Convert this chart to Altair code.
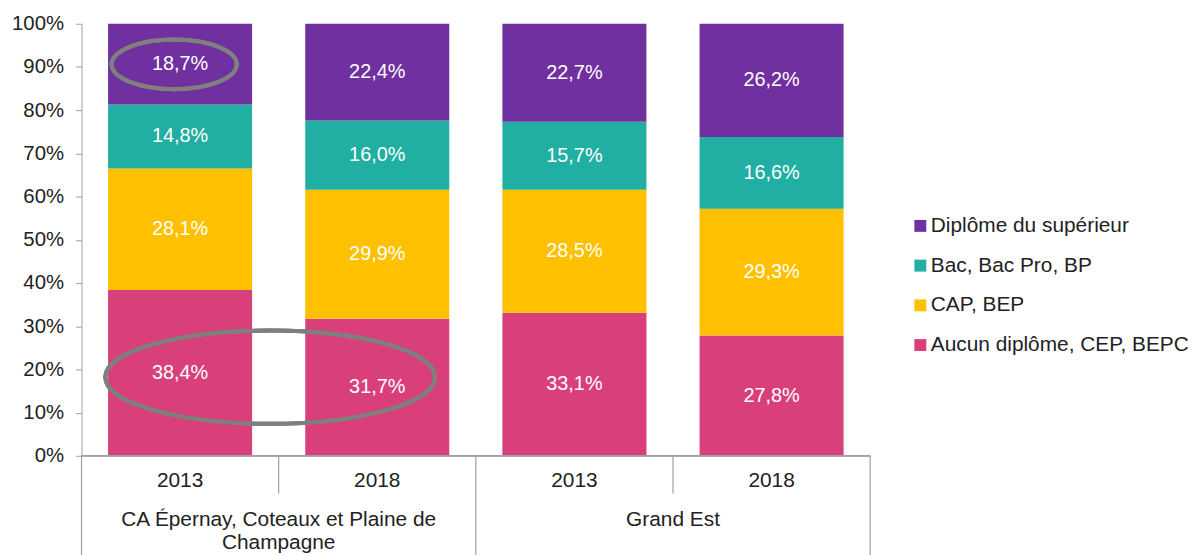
import altair as alt
import pandas as pd

# ---- data ----
levels = ["Aucun diplôme, CEP, BEPC", "CAP, BEP", "Bac, Bac Pro, BP", "Diplôme du supérieur"]
legend_order = ["Diplôme du supérieur", "Bac, Bac Pro, BP", "CAP, BEP", "Aucun diplôme, CEP, BEPC"]
colors = ["#7030A0", "#20AFA2", "#FFC000", "#D83F7B"]
years = ["2013", "2018", "2013", "2018"]
regions = ["CA Épernay, Coteaux et Plaine de\nChampagne", "Grand Est"]
aucun = [38.4, 31.7, 33.1, 27.8]
cap = [28.1, 29.9, 28.5, 29.3]
bac = [14.8, 16.0, 15.7, 16.6]
sup = [18.7, 22.4, 22.7, 26.2]

series = [aucun, cap, bac, sup]
rows = []
for li, (lev, vals) in enumerate(zip(levels, series)):
    for i, v in enumerate(vals):
        rows.append({"slot": i + 0.5, "year": years[i], "level": lev, "order": li, "value": v})
df = pd.DataFrame(rows)

year_df = pd.DataFrame({"slot": [i + 0.5 for i in range(4)], "year": years})
region_df = pd.DataFrame({"slot": [1, 3], "region": regions})
long_df = pd.DataFrame({"pos": [0, 2, 4]})
short_df = pd.DataFrame({"pos": [1, 3]})

FONT = "Liberation Sans"
GRAY = "#a0a0a0"
TXT = "#222222"
xscale = alt.Scale(domain=[0, 4], nice=False, zero=False, padding=0)
yscale = alt.Scale(domain=[0, 1], nice=False, padding=0)

base = alt.Chart(df).transform_stack(
    stack="value", groupby=["slot"], as_=["v0", "v1"], offset="normalize",
    sort=[alt.SortField("order")]
).transform_calculate(
    mid="(datum.v0 + datum.v1) / 2",
    label="replace(format(datum.value, '.1f'), '.', ',') + '%'"
)

bars = base.mark_bar(size=145).encode(
    x=alt.X("slot:Q", scale=xscale, axis=None),
    y=alt.Y("v0:Q", scale=yscale, title=None,
            axis=alt.Axis(values=[i / 10 for i in range(11)], format=".0%", grid=False,
                          domainColor=GRAY, tickColor=GRAY, tickSize=6, labelPadding=12,
                          labelFontSize=20.5, labelColor=TXT, labelFont=FONT)),
    y2="v1:Q",
    color=alt.Color("level:N", scale=alt.Scale(domain=legend_order, range=colors),
                    legend=alt.Legend(title=None, orient="none", legendX=834, legendY=193,
                                      symbolType="square", symbolSize=144, symbolStrokeWidth=0,
                                      labelFontSize=21, labelFont=FONT, labelColor=TXT,
                                      labelLimit=0, labelOffset=0, rowPadding=18, padding=0)),
)

texts = base.mark_text(fontSize=20, font=FONT, color="white", baseline="middle").encode(
    x=alt.X("slot:Q", scale=xscale),
    y=alt.Y("mid:Q", scale=yscale),
    text="label:N",
)

year_text = alt.Chart(year_df).mark_text(fontSize=21, font=FONT, color=TXT, baseline="middle").encode(
    x=alt.X("slot:Q", scale=xscale), y=alt.value(460), text="year:N"
)
region_text = alt.Chart(region_df).mark_text(fontSize=21, font=FONT, color=TXT, baseline="middle",
                                             lineBreak="\n", lineHeight=23).encode(
    x=alt.X("slot:Q", scale=xscale), y=alt.value(500), text="region:N"
)

long_rules = alt.Chart(long_df).mark_rule(color=GRAY, strokeWidth=1.2).encode(
    x=alt.X("pos:Q", scale=xscale), y=alt.value(435), y2=alt.value(540)
)
short_rules = alt.Chart(short_df).mark_rule(color=GRAY, strokeWidth=1.2).encode(
    x=alt.X("pos:Q", scale=xscale), y=alt.value(435), y2=alt.value(473)
)
base_rule = alt.Chart(long_df).mark_rule(color=GRAY, strokeWidth=1.2).encode(
    x=alt.datum(0, scale=xscale), x2=alt.datum(4), y=alt.value(435)
)

ell1 = alt.Chart(long_df).mark_point(
    shape="M -1 0 A 1 0.397 0 1 0 1 0 A 1 0.397 0 1 0 -1 0",
    size=15876, filled=False, stroke="#7f7f7f", strokeWidth=4, opacity=1
).encode(x=alt.datum(0.47, scale=xscale), y=alt.datum(0.906, scale=yscale))

ell2 = alt.Chart(long_df).mark_point(
    shape="M -1 0 A 1 0.283 0 1 0 1 0 A 1 0.283 0 1 0 -1 0",
    size=110224, filled=False, stroke="#7f7f7f", strokeWidth=4, opacity=1
).encode(x=alt.datum(0.957, scale=xscale), y=alt.datum(0.182, scale=yscale))

chart = alt.layer(
    bars, texts, year_text, region_text, long_rules, short_rules, base_rule, ell1, ell2
).properties(
    width=794, height=435,
    autosize=alt.AutoSizeParams(type="none"),
    padding={"left": 74, "top": 14, "right": 324, "bottom": 98},
).configure(font=FONT).configure_view(stroke=None)

chart.save("out.html", embed_options={"renderer": "svg", "actions": False})
